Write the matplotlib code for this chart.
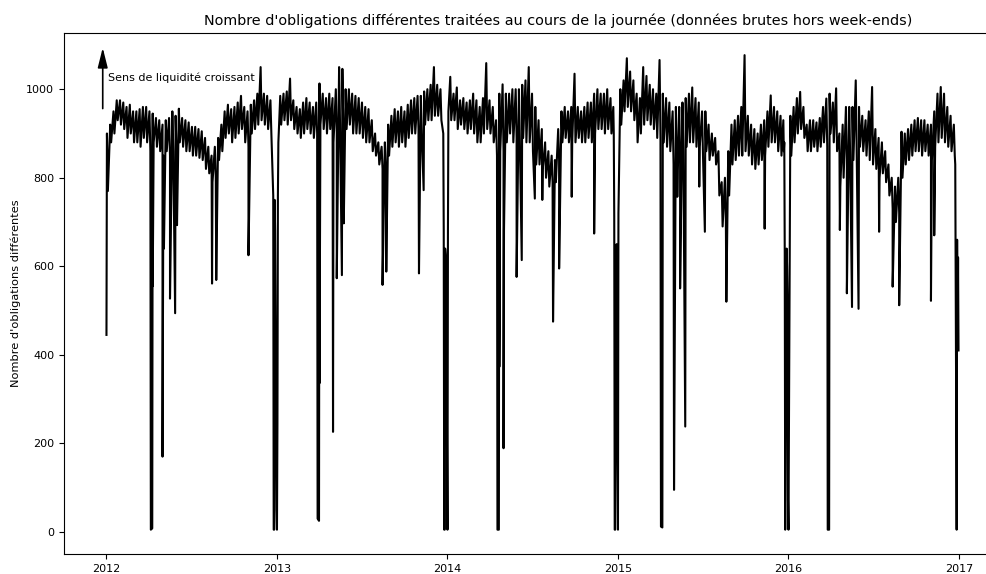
import pandas as pd
import matplotlib.pyplot as plt
import matplotlib.dates as mdates

# weekly envelope (max / min of the daily counts), one entry per week starting Monday
# None = holiday week, drawn only from the daily points below
hi_2012 = [900, 920, 950, 975, 975, 970, 960, 965, 950, 950, 955, 960, 960,
           950, 945, 935, 930, 920, 930, 935, 950, 940, 956, 935, 930, 925,
           915, 915, 910, 905, 890, 870, 850, 870, 890, 920, 950, 965, 955,
           960, 970, 985, 960, 950, 965, 975, 990, 1050, 990, 985, 975, None, None]
lo_2012 = [770, 880, 900, 930, 920, 910, 890, 900, 880, 880, 870, 890, 880,
           860, 880, 870, 860, 850, 860, 850, 860, 860, 880, 870, 860, 860,
           850, 850, 845, 840, 820, 810, 790, 800, 840, 860, 890, 900, 880,
           890, 900, 910, 880, 870, 900, 910, 920, 930, 920, 910, 900, None, None]

hi_2013 = [985, 990, 995, 1024, 975, 960, 955, 970, 980, 970, 960, 970, 1013,
           990, 980, 990, 980, 1000, 1050, 1046, 1000, 1000, 990, 985, 980, 970,
           960, 955, 930, 900, 880, 870, 880, 920, 940, 955, 950, 960, 950,
           965, 975, 980, 985, 985, 995, 1000, 1010, 1050, 1010, 1000, None, None]
lo_2013 = [920, 930, 920, 930, 910, 900, 890, 900, 910, 900, 890, 900, 920,
           910, 900, 910, 880, 900, 920, 910, 910, 920, 900, 900, 900, 890,
           880, 880, 860, 850, 830, 820, 820, 850, 870, 880, 870, 880, 870,
           890, 900, 900, 910, 900, 920, 930, 930, 940, 940, 930, None, None]

hi_2014 = [1028, 990, 1004, 975, 980, 970, 975, 990, 975, 960, 980, 1059, 975,
           960, 930, 990, 1011, 990, 990, 1000, 1000, 1000, 1010, 1020, 1050, 990,
           960, 930, 910, 880, 860, 850, 840, 910, 950, 960, 950, 960, 1035,
           960, 950, 960, 970, 970, 990, 1000, 990, 990, 1000, 980, None, None]
lo_2014 = [930, 930, 910, 920, 910, 900, 910, 900, 880, 880, 900, 910, 900,
           880, 850, 860, 860, 880, 900, 880, 890, 880, 890, 880, 880, 860,
           830, 830, 820, 800, 780, 790, 790, 840, 880, 890, 880, 880, 880,
           890, 880, 880, 890, 880, 900, 910, 910, 900, 910, 900, None, None]

hi_2015 = [1000, 1020, 1070, 1040, 1020, 990, 980, 1050, 1030, 1010, 1000, 990, 1066,
           990, 980, 970, 950, 960, 960, 970, 980, 990, 1004, 980, 970, 950,
           950, 920, 900, 890, 860, 790, 800, 860, 920, 930, 940, 960, 1077,
           940, 920, 910, 900, 920, 930, 950, 986, 960, 950, 940, None, None]
lo_2015 = [920, 950, 960, 950, 930, 880, 900, 920, 930, 920, 910, 890, 890,
           880, 870, 860, 830, 840, 850, 860, 870, 880, 880, 870, 870, 850,
           860, 840, 850, 830, 760, 690, 700, 760, 830, 840, 850, 850, 860,
           850, 830, 820, 830, 840, 850, 870, 880, 880, 860, 850, None, None]

hi_2016 = [940, 960, 980, 994, 960, 920, 930, 930, 925, 935, 960, 979, 990,
           970, 1002, 900, 920, 960, 960, 960, 1020, 960, 940, 930, 950, 1005,
           910, 890, 880, 860, 830, 800, 780, 800, 904, 900, 910, 920, 930,
           935, 930, 930, 920, 920, 950, 990, 1005, 990, 960, 940, 920, None]
lo_2016 = [850, 880, 900, 910, 890, 860, 860, 870, 860, 870, 880, 870, 900,
           880, 860, 780, 800, 840, 850, 840, 860, 870, 860, 850, 840, 830,
           820, 800, 810, 790, 760, 730, 700, 720, 800, 830, 840, 850, 860,
           860, 850, 860, 850, 840, 870, 880, 890, 880, 870, 860, 850, None]

# single days: holidays, isolated drops and the year-end periods
day_dates = [
    "2012-01-02", "2012-04-06", "2012-04-09", "2012-04-10", "2012-05-01",
    "2012-05-04", "2012-05-17", "2012-05-28", "2012-06-01", "2012-08-15",
    "2012-08-24", "2012-11-01",
    "2012-12-24", "2012-12-25", "2012-12-26", "2012-12-27", "2012-12-28",
    "2012-12-31", "2013-01-01", "2013-01-02", "2013-01-03", "2013-01-04",
    "2013-03-29", "2013-04-01", "2013-04-02", "2013-05-01", "2013-05-09",
    "2013-05-20", "2013-05-24", "2013-08-15", "2013-08-23", "2013-11-01",
    "2013-11-11",
    "2013-12-23", "2013-12-24", "2013-12-25", "2013-12-26", "2013-12-27",
    "2013-12-30", "2013-12-31", "2014-01-01", "2014-01-02", "2014-01-03",
    "2014-04-18", "2014-04-21", "2014-04-22", "2014-05-01", "2014-05-02",
    "2014-05-29", "2014-06-09", "2014-07-07", "2014-07-23", "2014-08-15",
    "2014-08-28", "2014-09-24", "2014-11-11",
    "2014-12-22", "2014-12-23", "2014-12-24", "2014-12-25", "2014-12-26",
    "2014-12-29", "2014-12-30", "2014-12-31", "2015-01-01", "2015-01-02",
    "2015-04-03", "2015-04-06", "2015-05-01", "2015-05-08", "2015-05-14",
    "2015-05-25", "2015-06-24", "2015-07-06", "2015-08-21", "2015-11-11",
    "2015-12-21", "2015-12-22", "2015-12-23", "2015-12-24", "2015-12-25",
    "2015-12-28", "2015-12-29", "2015-12-30", "2015-12-31", "2016-01-01",
    "2016-03-25", "2016-03-28", "2016-04-20", "2016-05-05", "2016-05-16",
    "2016-05-30", "2016-07-13", "2016-08-11", "2016-08-25", "2016-11-01",
    "2016-11-08",
    "2016-12-23", "2016-12-26", "2016-12-27", "2016-12-28", "2016-12-29",
    "2016-12-30",
]
day_values = [
    445, 5, 8, 555, 170,
    640, 527, 494, 693, 561,
    569, 625,
    760, 5, 5, 750, 680,
    50, 5, 245, 760, 880,
    30, 25, 336, 226, 573,
    580, 697, 558, 588, 584,
    772,
    900, 682, 5, 5, 640,
    600, 200, 5, 682, 950,
    5, 5, 373, 189, 682,
    576, 614, 753, 750, 475,
    595, 757, 674,
    960, 900, 712, 5, 5,
    650, 560, 190, 5, 720,
    12, 10, 95, 757, 550,
    238, 780, 678, 520, 685,
    930, 860, 880, 632, 5,
    640, 600, 520, 72, 5,
    5, 5, 682, 539, 508,
    504, 678, 554, 512, 522,
    670,
    830, 5, 660, 410, 620,
    410,
]

weeks = pd.date_range("2012-01-02", "2016-12-26", freq="W-MON")
week_hi = hi_2012 + hi_2013 + hi_2014 + hi_2015 + hi_2016
week_lo = lo_2012 + lo_2013 + lo_2014 + lo_2015 + lo_2016

# max on Tuesday, min on Thursday, then the single days in between
series = pd.concat([
    pd.Series(week_hi, index=weeks + pd.Timedelta(days=1), dtype=float),
    pd.Series(week_lo, index=weeks + pd.Timedelta(days=3), dtype=float),
    pd.Series(day_values, index=pd.to_datetime(day_dates), dtype=float),
]).dropna().sort_index(kind="stable")

fig = plt.figure(figsize=(9.87, 5.74), dpi=100)
# the original axes run past the right edge of the picture
ax = fig.add_axes([0.0648, 0.0348, 1.001, 0.9077])
ax.spines["right"].set_visible(False)

ax.plot(series.index, series.values, color="black", lw=1.5)

ax.set_title("Nombre d'obligations différentes traitées au cours de la journée "
             "(données brutes hors week-ends)", fontsize=10.4)
ax.set_ylabel("Nombre d'obligations différentes", fontsize=8.2)
ax.annotate("", xy=(pd.Timestamp("2011-12-25"), 1100),
            xytext=(pd.Timestamp("2011-12-25"), 950),
            arrowprops=dict(arrowstyle="-|>,head_length=0.6,head_width=0.15",
                            color="black", lw=1.2, mutation_scale=20))
ax.text(pd.Timestamp("2012-01-06"), 1027, "Sens de liquidité croissant",
        fontsize=8, va="center")

ax.xaxis.set_major_locator(mdates.YearLocator())
ax.xaxis.set_major_formatter(mdates.DateFormatter("%Y"))
ax.set_yticks([0, 200, 400, 600, 800, 1000])
ax.tick_params(labelsize=8)
ax.set_xlim(pd.Timestamp("2011-10-03"), pd.Timestamp("2017-07-18"))
ax.set_ylim(-50, 1127)

fig.savefig("out.png", dpi=100)
